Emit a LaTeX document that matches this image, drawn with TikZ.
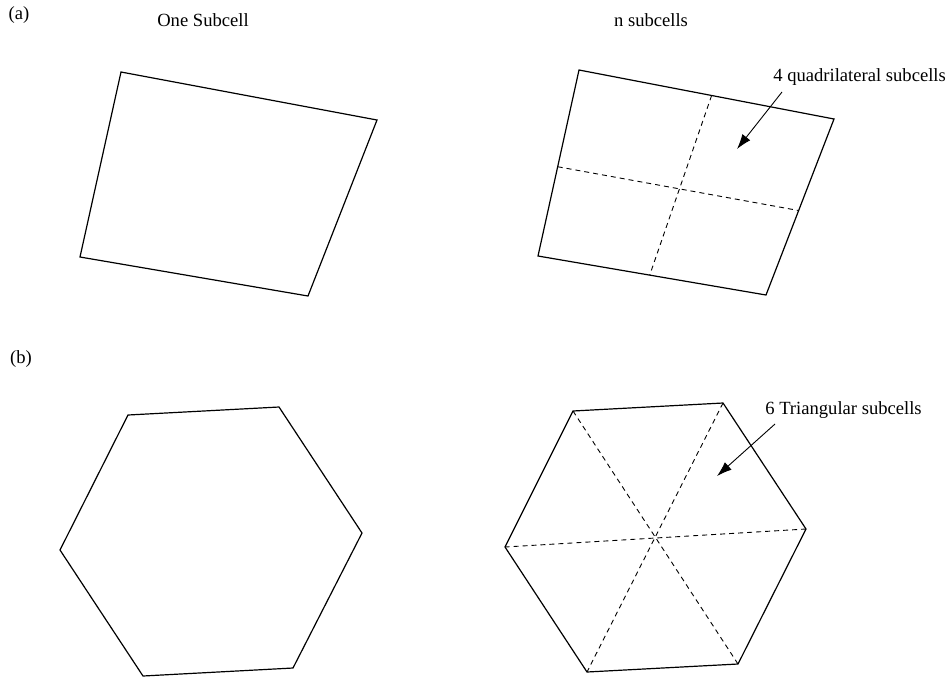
\documentclass[tikz,border=0pt]{standalone}
\usepackage{fontspec}
\setmainfont{Liberation Serif}
\usetikzlibrary{arrows.meta,calc}
\begin{document}
\begin{tikzpicture}[x=1pt,y=-1pt,
  edge/.style={line width=1.2pt,line join=miter},
  split/.style={line width=0.9pt,dash pattern=on 5pt off 4pt},
  lbl/.style={font=\fontsize{18.6}{22}\selectfont,inner sep=0pt},
  pointer/.style={line width=0.9pt,-{Latex[length=15pt,width=10pt]}}]
\useasboundingbox (0,0) rectangle (949,678);
% titles
\node[lbl] (ta) at (19,15) {(a)};
\node[lbl] (tb) at (21,359) {(b)};
\node[lbl] (t1) at (203,20) {One Subcell};
\node[lbl] (t2) at (651,20) {n subcells};
% quad left
\coordinate (qa1) at (121,72);
\coordinate (qa2) at (377,120);
\coordinate (qa3) at (308,296);
\coordinate (qa4) at (80,257);
\draw[edge] (qa1) -- (qa2) -- (qa3) -- (qa4) -- cycle;
% quad right
\coordinate (qb1) at (579,70);
\coordinate (qb2) at (834,119);
\coordinate (qb3) at (766,295);
\coordinate (qb4) at (538,256);
\draw[edge] (qb1) -- (qb2) -- (qb3) -- (qb4) -- cycle;
\coordinate (mt) at ($(qb1)!0.52!(qb2)$);
\coordinate (mb) at ($(qb4)!0.49!(qb3)$);
\coordinate (ml) at ($(qb1)!0.52!(qb4)$);
\coordinate (mr) at ($(qb2)!0.52!(qb3)$);
\draw[split] (mt) -- (mb);
\draw[split] (ml) -- (mr);
\node[lbl,anchor=east] (l4) at (946,77) {4 quadrilateral subcells};
\coordinate (a4) at (737,149);
\draw[pointer] (782,92) -- (a4);
% hex left
\coordinate (ha1) at (128,415);
\coordinate (ha2) at (279,407);
\coordinate (ha3) at (362,533);
\coordinate (ha4) at (293,668);
\coordinate (ha5) at (143,676);
\coordinate (ha6) at (60,550);
\draw[edge] (ha1) -- (ha2) -- (ha3) -- (ha4) -- (ha5) -- (ha6) -- cycle;
% hex right
\coordinate (hb1) at (573,411);
\coordinate (hb2) at (723,403);
\coordinate (hb3) at (806,529);
\coordinate (hb4) at (738,664);
\coordinate (hb5) at (587,672);
\coordinate (hb6) at (505,547);
\draw[edge] (hb1) -- (hb2) -- (hb3) -- (hb4) -- (hb5) -- (hb6) -- cycle;
\draw[split] (hb1) -- (hb4);
\draw[split] (hb2) -- (hb5);
\draw[split] (hb3) -- (hb6);
\node[lbl] (l6) at (843.5,410) {6 Triangular subcells};
\coordinate (a6) at (717,476);
\draw[pointer] (775,424) -- (a6);
\end{tikzpicture}
\end{document}
